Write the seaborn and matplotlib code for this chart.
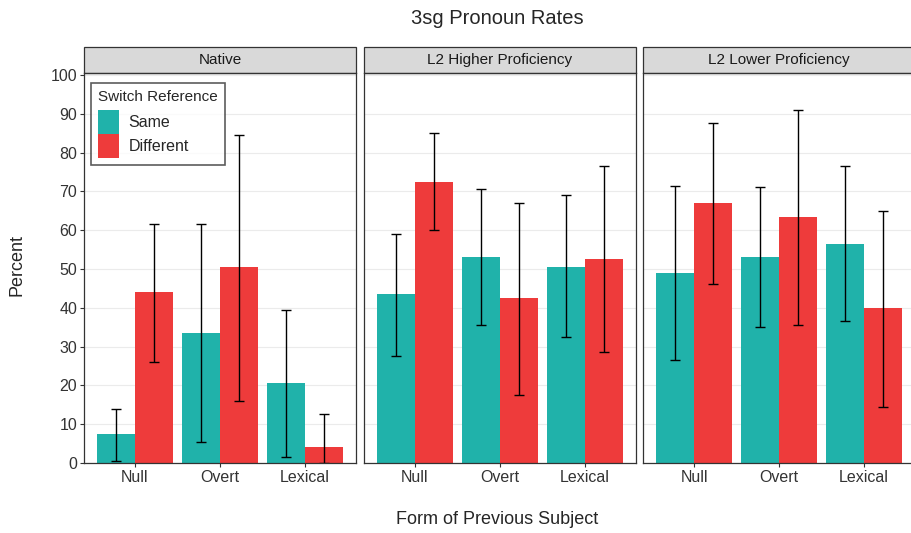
import matplotlib
matplotlib.use("Agg")
import matplotlib.pyplot as plt
from matplotlib.patches import Patch, Rectangle
import numpy as np
import pandas as pd
import seaborn as sns

groups = ["Native", "L2 Higher Proficiency", "L2 Lower Proficiency"]
forms = ["Null", "Overt", "Lexical"]
refs = ["Same", "Different"]

# percent per form (Null, Overt, Lexical), with lower / upper error bar ends
native_same = [7.5, 33.5, 20.5]
native_same_lo = [0.5, 5.5, 1.5]
native_same_hi = [14.0, 61.5, 39.5]
native_diff = [44.0, 50.5, 4.0]
native_diff_lo = [26.0, 16.0, 0.0]
native_diff_hi = [61.5, 84.5, 12.5]

high_same = [43.5, 53.0, 50.5]
high_same_lo = [27.5, 35.5, 32.5]
high_same_hi = [59.0, 70.5, 69.0]
high_diff = [72.5, 42.5, 52.5]
high_diff_lo = [60.0, 17.5, 28.5]
high_diff_hi = [85.0, 67.0, 76.5]

low_same = [49.0, 53.0, 56.5]
low_same_lo = [26.5, 35.0, 36.5]
low_same_hi = [71.5, 71.0, 76.5]
low_diff = [67.0, 63.5, 40.0]
low_diff_lo = [46.0, 35.5, 14.5]
low_diff_hi = [87.5, 91.0, 65.0]

series = {
    ("Native", "Same"): (native_same, native_same_lo, native_same_hi),
    ("Native", "Different"): (native_diff, native_diff_lo, native_diff_hi),
    ("L2 Higher Proficiency", "Same"): (high_same, high_same_lo, high_same_hi),
    ("L2 Higher Proficiency", "Different"): (high_diff, high_diff_lo, high_diff_hi),
    ("L2 Lower Proficiency", "Same"): (low_same, low_same_lo, low_same_hi),
    ("L2 Lower Proficiency", "Different"): (low_diff, low_diff_lo, low_diff_hi),
}

rows = []
for (g, r), (vals, lo, hi) in series.items():
    for f, v, l, h in zip(forms, vals, lo, hi):
        rows.append({"group": g, "ref": r, "form": f, "pct": v, "lo": l, "hi": h})
df = pd.DataFrame(rows)

colors = {"Same": "#20B2AA", "Different": "#EE3B3B"}

sns.set_theme(style="white")
plt.rcParams["font.family"] = ["Liberation Sans", "DejaVu Sans"]

fig = plt.figure(figsize=(9.12, 5.33), dpi=100)
W, H = 912, 533
lefts = [84, 364, 643]
pw = 272
top, bottom = 73, 463
strip_h = 26

axes = []
for i, g in enumerate(groups):
    ax = fig.add_axes([lefts[i] / W, 1 - bottom / H, pw / W, (bottom - top) / H])
    axes.append(ax)
    sub = df[df["group"] == g]
    sns.barplot(data=sub, x="form", y="pct", hue="ref", order=forms, hue_order=refs,
                palette=colors, width=0.9, gap=0, errorbar=None, saturation=1,
                legend=False, linewidth=0, ax=ax)
    for cont, r in zip(ax.containers, refs):
        s = sub[sub["ref"] == r].set_index("form").loc[forms]
        xs = [b.get_x() + b.get_width() / 2 for b in cont]
        ax.errorbar(xs, s["pct"], yerr=[s["pct"] - s["lo"], s["hi"] - s["pct"]],
                    fmt="none", ecolor="black", elinewidth=1.0, capsize=3.5,
                    capthick=1.0)
    ax.set_xlim(-0.6, 2.6)
    ax.set_ylim(0, 100.5)
    ax.set_yticks(np.arange(0, 101, 10))
    ax.yaxis.grid(True, color="#EBEBEB", linewidth=0.8)
    ax.set_axisbelow(True)
    ax.set_xlabel("")
    ax.set_ylabel("")
    for sp in ax.spines.values():
        sp.set_color("#333333")
        sp.set_linewidth(0.9)
    ax.tick_params(axis="both", which="both", length=3, width=0.8, color="#333333",
                   labelsize=11.5, labelcolor="#333333", pad=2)
    ax.tick_params(axis="both", bottom=True, left=True)
    if i > 0:
        ax.tick_params(axis="y", labelleft=False, left=False)
    # facet strip
    sh = strip_h / (bottom - top)
    ax.add_patch(Rectangle((0, 1), 1, sh, transform=ax.transAxes, clip_on=False,
                           facecolor="#D9D9D9", edgecolor="#333333", linewidth=0.9))
    ax.text(0.5, 1 + sh / 2, g, transform=ax.transAxes, ha="center", va="center",
            fontsize=11, color="#1A1A1A")

handles = [Patch(facecolor=colors[r], edgecolor="none", label=r) for r in refs]
leg = axes[0].legend(handles=handles, title="Switch Reference", loc="upper left",
                     bbox_to_anchor=(0.026, 0.974), borderaxespad=0, fontsize=11.5,
                     title_fontsize=11, frameon=True, fancybox=False,
                     handlelength=1.3, handleheight=1.95, handletextpad=0.6,
                     labelspacing=0.0, borderpad=0.45)
leg._legend_box.sep = 4
leg.get_frame().set_edgecolor("#333333")
leg.get_frame().set_linewidth(1.2)
leg._legend_box.align = "left"

fig.text(497 / W, 1 - 18 / H, "3sg Pronoun Rates", ha="center", va="center", fontsize=14.5)
fig.text(497 / W, 1 - 520 / H, "Form of Previous Subject", ha="center", va="center",
         fontsize=13)
fig.text(17 / W, 1 - 265 / H, "Percent", ha="center", va="center", rotation=90,
         fontsize=13)

fig.savefig("out.png", dpi=100)
